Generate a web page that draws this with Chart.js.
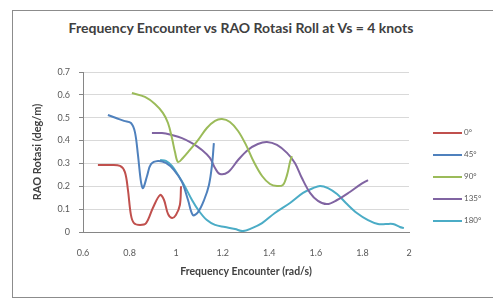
<!DOCTYPE html>
<html>
<head>
<meta charset="UTF-8">
<script src="https://cdn.jsdelivr.net/npm/chart.js"></script>
<style>
  body { margin: 0; background: #fff; width: 493px; height: 303px; overflow: hidden; font-family: Lato, sans-serif; }
  .frame { position: absolute; left: 12px; top: 10px; width: 500px; height: 286px; border: 1.5px solid #8c8c8c; }
  #wrap { position: absolute; left: 0; top: 0; width: 493px; height: 303px; }
  .title { position: absolute; left: 0; width: 482px; top: 19px; text-align: center; font-weight: bold; font-size: 14px; color: #404040; }
  .legend { position: absolute; left: 433px; top: 0; font-size: 8px; color: #595959; }
  .legend div { position: absolute; white-space: nowrap; }
  .legend span { display: inline-block; width: 29px; height: 2px; vertical-align: middle; margin-right: 2px; }
</style>
</head>
<body>
<div class="frame"></div>
<div class="title">Frequency Encounter vs RAO Rotasi Roll at Vs = 4 knots</div>
<div id="wrap"><canvas id="c" width="493" height="303"></canvas></div>
<div class="legend" id="legend"></div>
<script>
const seriesNames = ['0°', '45°', '90°', '135°', '180°'];
const seriesColors = ['#C0504D', '#4F81BD', '#9BBB59', '#8064A2', '#4BACC6'];

// 0 deg
const x0 = [0.664, 0.716, 0.759, 0.780, 0.793, 0.806, 0.819, 0.845, 0.871, 0.900, 0.931, 0.948, 0.965, 0.982, 0.999, 1.016, 1.021];
const y0 = [0.293, 0.293, 0.289, 0.262, 0.184, 0.074, 0.039, 0.031, 0.039, 0.105, 0.162, 0.140, 0.079, 0.061, 0.074, 0.118, 0.200];
// 45 deg
const x45 = [0.707, 0.742, 0.776, 0.806, 0.823, 0.836, 0.849, 0.858, 0.875, 0.892, 0.922, 0.956, 0.991, 1.025, 1.051, 1.072, 1.094, 1.120, 1.141, 1.154, 1.162];
const y45 = [0.512, 0.499, 0.486, 0.477, 0.437, 0.337, 0.219, 0.192, 0.245, 0.297, 0.311, 0.302, 0.271, 0.219, 0.140, 0.074, 0.087, 0.140, 0.206, 0.293, 0.389];
// 90 deg
const x90 = [0.810, 0.866, 0.909, 0.943, 0.965, 0.982, 0.995, 1.008, 1.029, 1.059, 1.094, 1.132, 1.167, 1.197, 1.231, 1.266, 1.300, 1.334, 1.369, 1.403, 1.433, 1.459, 1.476, 1.489, 1.497];
const y90 = [0.608, 0.591, 0.560, 0.521, 0.477, 0.411, 0.350, 0.306, 0.324, 0.359, 0.402, 0.455, 0.486, 0.494, 0.481, 0.442, 0.381, 0.306, 0.245, 0.210, 0.201, 0.206, 0.249, 0.306, 0.332];
// 135 deg
const x135 = [0.896, 0.939, 0.982, 1.025, 1.068, 1.111, 1.145, 1.167, 1.188, 1.223, 1.266, 1.308, 1.351, 1.390, 1.433, 1.476, 1.510, 1.540, 1.575, 1.609, 1.648, 1.691, 1.746, 1.789, 1.824];
const y135 = [0.433, 0.433, 0.424, 0.411, 0.389, 0.359, 0.324, 0.280, 0.254, 0.262, 0.315, 0.359, 0.385, 0.394, 0.381, 0.346, 0.302, 0.236, 0.171, 0.136, 0.122, 0.140, 0.175, 0.206, 0.227];
// 180 deg
const x180 = [0.931, 0.956, 0.982, 1.008, 1.034, 1.068, 1.098, 1.132, 1.167, 1.210, 1.253, 1.287, 1.326, 1.369, 1.424, 1.489, 1.545, 1.588, 1.618, 1.652, 1.691, 1.729, 1.776, 1.824, 1.867, 1.901, 1.931, 1.961, 1.978];
const y180 = [0.315, 0.311, 0.289, 0.249, 0.206, 0.140, 0.092, 0.052, 0.031, 0.022, 0.013, 0.004, 0.017, 0.039, 0.083, 0.127, 0.171, 0.192, 0.201, 0.192, 0.166, 0.127, 0.083, 0.052, 0.035, 0.035, 0.035, 0.022, 0.017];

const xTicks = [0.6, 0.8, 1, 1.2, 1.4, 1.6, 1.8, 2];
const yTicks = [0, 0.1, 0.2, 0.3, 0.4, 0.5, 0.6, 0.7];

const xs = [x0, x45, x90, x135, x180];
const ys = [y0, y45, y90, y135, y180];

const datasets = seriesNames.map((name, i) => ({
  label: name,
  data: xs[i].map((x, j) => ({ x: x, y: ys[i][j] })),
  borderColor: seriesColors[i],
  backgroundColor: seriesColors[i],
  borderWidth: 2,
  pointRadius: 0,
  showLine: true,
  tension: 0.35
}));

const tickFont = { family: 'Lato', size: 9 };
const axisTitleFont = { family: 'Lato', size: 10.5, weight: 'bold' };

new Chart(document.getElementById('c'), {
  type: 'scatter',
  data: { datasets: datasets },
  options: {
    responsive: false,
    animation: false,
    devicePixelRatio: 1,
    layout: { padding: { left: 0, top: 72, right: 84, bottom: 0 } },
    plugins: { legend: { display: false }, tooltip: { enabled: false } },
    scales: {
      x: {
        type: 'linear', min: 0.6, max: 2,
        afterBuildTicks: s => { s.ticks = xTicks.map(v => ({ value: v })); },
        afterFit: s => { s.height = 71; },
        grid: { display: false, drawTicks: true, tickLength: 4, tickColor: '#868686' },
        border: { color: '#868686' },
        ticks: { color: '#595959', font: tickFont, padding: 12, callback: v => String(v) },
        title: { display: true, text: 'Frequency Encounter (rad/s)', color: '#404040', font: axisTitleFont, padding: { bottom: 25 } }
      },
      y: {
        min: 0, max: 0.7,
        afterBuildTicks: s => { s.ticks = yTicks.map(v => ({ value: v })); },
        afterFit: s => { s.width = 83; },
        grid: { color: '#d9d9d9', tickLength: 4, tickColor: '#868686' },
        border: { color: '#868686' },
        ticks: { color: '#595959', font: tickFont, padding: 9, callback: v => String(v) },
        title: { display: true, text: 'RAO Rotasi (deg/m)', color: '#404040', font: { family: 'Lato', size: 11, weight: 'bold' }, padding: { top: 31 } }
      }
    }
  }
});

const legendTops = [133, 155, 177, 199, 221];
document.getElementById('legend').innerHTML = seriesNames.map((n, i) =>
  `<div style="top:${legendTops[i] - 6}px"><span style="background:${seriesColors[i]}"></span>${n}</div>`).join('');
</script>
</body>
</html>
